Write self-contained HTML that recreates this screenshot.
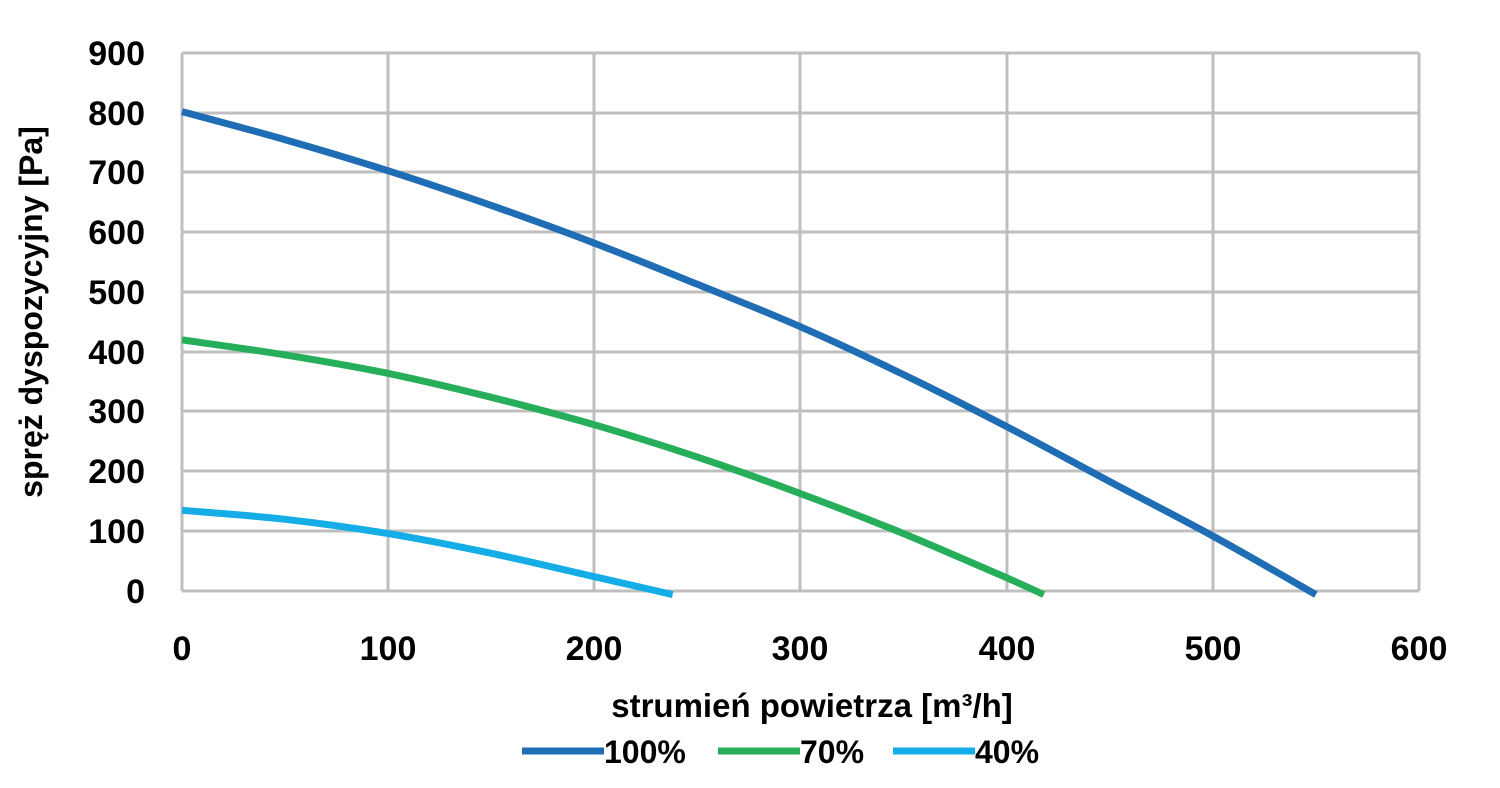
<!DOCTYPE html>
<html><head><meta charset="utf-8"><style>
html,body{margin:0;padding:0;background:#fff;}
svg text{font-family:"Liberation Sans",sans-serif;font-weight:bold;fill:#000;}
</style></head><body>
<svg id="s" width="1500" height="783" viewBox="0 0 1500 783" xmlns="http://www.w3.org/2000/svg">
<g stroke="#bfbfbf" stroke-width="3" fill="none">
<line x1="182" y1="53" x2="1419" y2="53"/>
<line x1="182" y1="113" x2="1419" y2="113"/>
<line x1="182" y1="172" x2="1419" y2="172"/>
<line x1="182" y1="232" x2="1419" y2="232"/>
<line x1="182" y1="292" x2="1419" y2="292"/>
<line x1="182" y1="352" x2="1419" y2="352"/>
<line x1="182" y1="411" x2="1419" y2="411"/>
<line x1="182" y1="471" x2="1419" y2="471"/>
<line x1="182" y1="531" x2="1419" y2="531"/>
<line x1="182" y1="591" x2="1419" y2="591"/>
<line x1="182" y1="53" x2="182" y2="591"/>
<line x1="388" y1="53" x2="388" y2="591"/>
<line x1="594" y1="53" x2="594" y2="591"/>
<line x1="800" y1="53" x2="800" y2="591"/>
<line x1="1007" y1="53" x2="1007" y2="591"/>
<line x1="1213" y1="53" x2="1213" y2="591"/>
<line x1="1419" y1="53" x2="1419" y2="591"/>
</g>
<g fill="none" stroke-width="7" stroke-linejoin="round">
<path id="p1" stroke="#1f6db4" d=""/>
<path id="p2" stroke="#27ae5a" d=""/>
<path id="p3" stroke="#14ade6" d=""/>
</g>
<g font-size="34" text-anchor="end">
<text x="145" y="65">900</text>
<text x="145" y="125">800</text>
<text x="145" y="184">700</text>
<text x="145" y="244">600</text>
<text x="145" y="304">500</text>
<text x="145" y="364">400</text>
<text x="145" y="423">300</text>
<text x="145" y="483">200</text>
<text x="145" y="543">100</text>
<text x="145" y="603">0</text>
</g>
<g font-size="34" text-anchor="middle">
<text x="182" y="660">0</text>
<text x="388" y="660">100</text>
<text x="594" y="660">200</text>
<text x="800" y="660">300</text>
<text x="1007" y="660">400</text>
<text x="1213" y="660">500</text>
<text x="1419" y="660">600</text>
</g>
<text x="812" y="717" font-size="33" text-anchor="middle">strumień powietrza [m³/h]</text>
<text transform="translate(42,312) rotate(-90)" font-size="32" text-anchor="middle">spręż dyspozycyjny [Pa]</text>
<g stroke-width="7">
<line x1="522" y1="751" x2="604" y2="751" stroke="#1f6db4"/>
<line x1="718" y1="751" x2="800" y2="751" stroke="#27ae5a"/>
<line x1="893" y1="751" x2="975" y2="751" stroke="#14ade6"/>
</g>
<g font-size="32">
<text x="604" y="763">100%</text>
<text x="800" y="763">70%</text>
<text x="975" y="763">40%</text>
</g>
</svg>
<script>
function X(v){return 182+v*1237/600;}
function Y(v){return 591-v*538/900;}
function cr(pts){
  var P=pts.map(function(p){return [X(p[0]),Y(p[1])];});
  var d="M"+P[0][0].toFixed(1)+","+P[0][1].toFixed(1);
  for(var i=0;i<P.length-1;i++){
    var p0=P[i-1]||P[i],p1=P[i],p2=P[i+1],p3=P[i+2]||P[i+1];
    var c1=[p1[0]+(p2[0]-p0[0])/6,p1[1]+(p2[1]-p0[1])/6];
    var c2=[p2[0]-(p3[0]-p1[0])/6,p2[1]-(p3[1]-p1[1])/6];
    d+=" C"+c1[0].toFixed(1)+","+c1[1].toFixed(1)+" "+c2[0].toFixed(1)+","+c2[1].toFixed(1)+" "+p2[0].toFixed(1)+","+p2[1].toFixed(1);
  }
  return d;
}
document.getElementById("p1").setAttribute("d",cr([[0,802],[50,755],[100,703],[150,645],[200,582],[250,513],[300,442],[350,362],[400,275],[450,183],[500,92],[550,-6]]));
document.getElementById("p2").setAttribute("d",cr([[0,420],[50,395],[100,364],[150,324],[200,278],[250,224],[300,163],[350,96],[400,22],[418,-6]]));
document.getElementById("p3").setAttribute("d",cr([[0,135],[50,120],[100,96],[150,63],[200,24],[238,-6]]));
</script>
</body></html>
